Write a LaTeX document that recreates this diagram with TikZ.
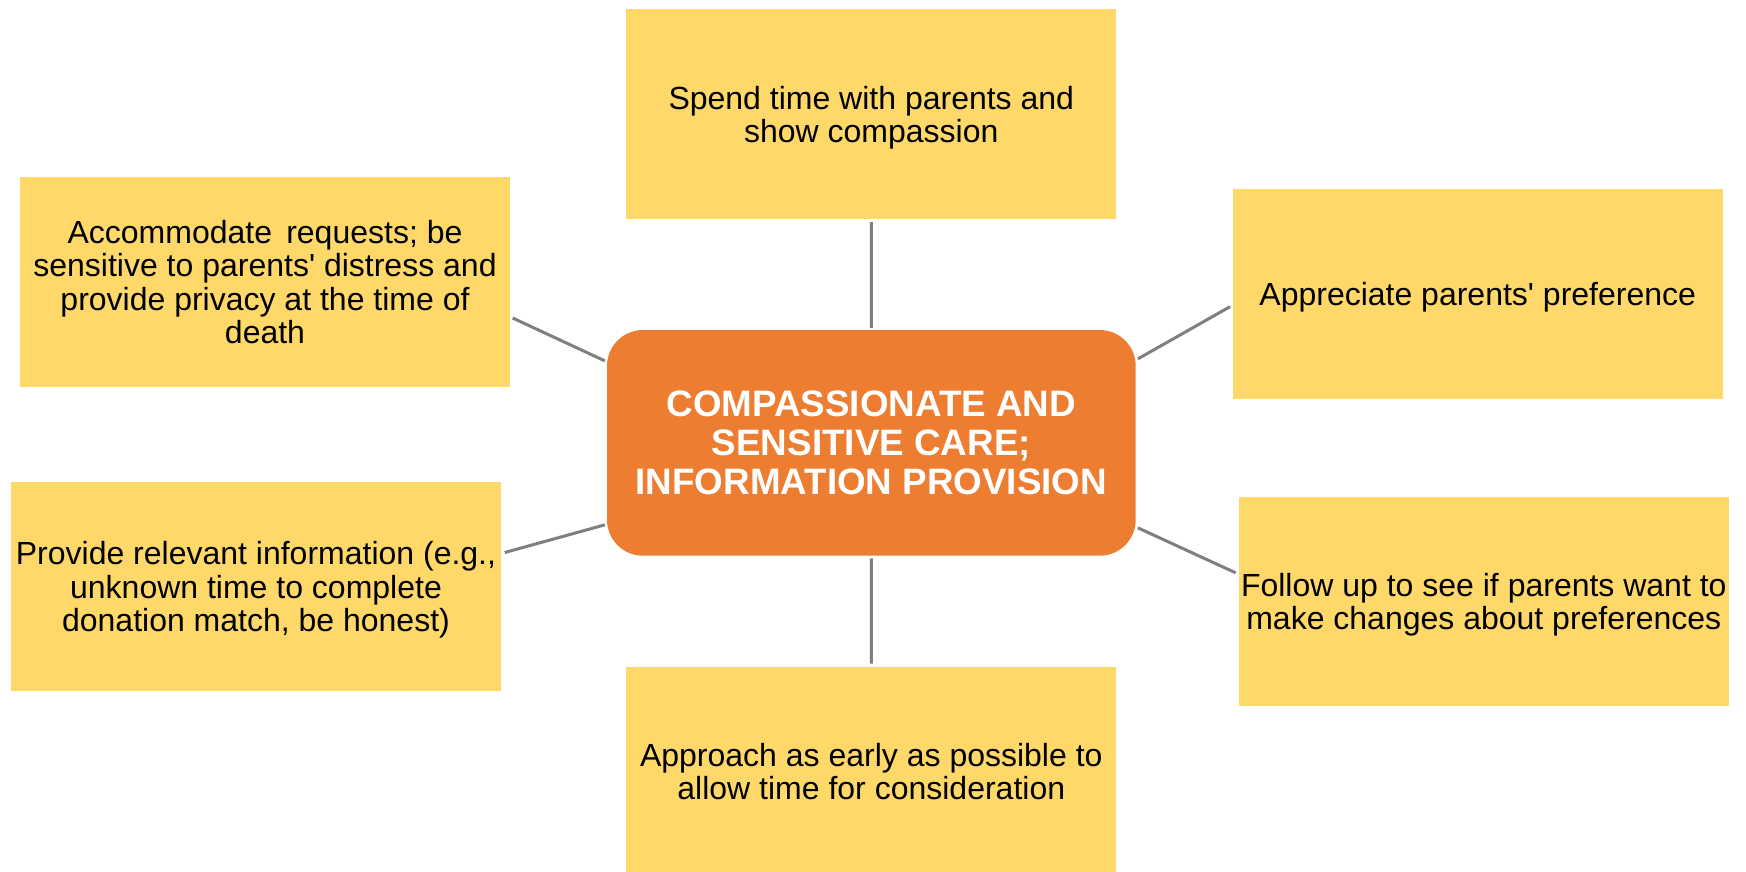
\documentclass[tikz,border=0pt]{standalone}
\usepackage{fontspec}
\setmainfont{Liberation Sans}[Ligatures=TeXOff]
\definecolor{boxyellow}{HTML}{FED868}
\definecolor{hubOrange}{HTML}{ED7D31}
\definecolor{linkgray}{HTML}{7F7F7F}
\tikzset{
  leaf/.style={rectangle, fill=boxyellow, inner sep=0pt, minimum width=490pt, minimum height=209.5pt,
    align=center, text=black, text depth=0pt, font=\fontsize{32}{33.4}\selectfont},
  hub/.style={rectangle, rounded corners=36pt, fill=hubOrange, inner sep=0pt, minimum width=528.7pt,
    minimum height=225.7pt, align=center, text=white, font=\bfseries\fontsize{36.8}{38.7}\selectfont},
  link/.style={draw=linkgray, line width=3pt}
}
\begin{document}
\begin{tikzpicture}[x=1pt, y=-1pt]
\fill[white] (0,0) rectangle (1746,871);
\clip (0,0) rectangle (1746,871);
\node[hub] (c) at (871.35,442.85) {COMPASSIONATE AND\\SENSITIVE CARE;\\INFORMATION PROVISION};
\node[leaf] (top) at (871.3,114.2) {Spend time with parents and\\show compassion};
\node[leaf] (lt) at (265,282) {Accommodate\, requests; be\\sensitive to parents' distress and\\provide privacy at the time of\\death};
\node[leaf] (rt) at (1477.7,294.2) {Appreciate parents' preference};
\node[leaf] (lb) at (256,586.5) {Provide relevant information (e.g.,\\unknown time to complete\\donation match, be honest)};
\node[leaf] (rb) at (1483.8,601.5) {Follow up to see if parents want to\\make changes about preferences};
\node[leaf] (bot) at (871.3,771.5) {Approach as early as possible to\\allow time for consideration};
\draw[link] ([yshift=-3pt]top.south) -- ([yshift=2pt]c.north);
\draw[link] ([yshift=-2.5pt]c.south) -- ([yshift=3pt]bot.north);
\draw[link] ([xshift=2.5pt,yshift=-36pt]lt.east) -- ([xshift=-2pt,yshift=82pt]c.west);
\draw[link] ([xshift=3.5pt,yshift=34pt]lb.east) -- ([xshift=-2pt,yshift=-82pt]c.west);
\draw[link] ([xshift=2pt,yshift=84pt]c.east) -- ([xshift=-2.5pt,yshift=-12.5pt]rt.west);
\draw[link] ([xshift=2pt,yshift=-85pt]c.east) -- ([xshift=-3pt,yshift=28.7pt]rb.west);
\end{tikzpicture}
\end{document}
